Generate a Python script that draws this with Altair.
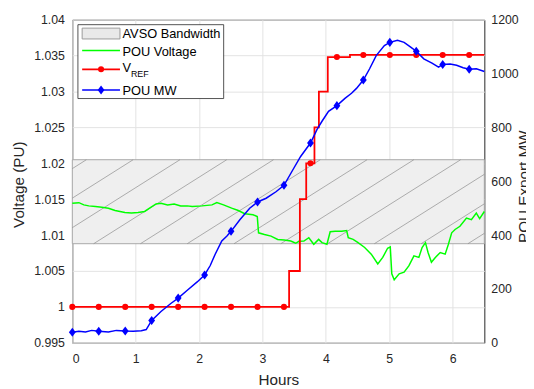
import altair as alt
import pandas as pd

# ---------------- data ----------------
G_H = [0.00, 0.104, 0.182, 0.260, 0.364, 0.466, 0.570, 0.675, 0.830, 0.933, 1.037, 1.141, 1.219,
       1.321, 1.399, 1.503, 1.607, 1.710, 1.814, 1.892, 2.047, 2.203, 2.280, 2.385, 2.514, 2.618,
       2.720, 2.851, 2.918, 2.938, 3.031, 3.135, 3.240, 3.342, 3.446, 3.524, 3.575, 3.653, 3.731,
       3.809, 3.886, 3.939, 4.017, 4.068, 4.146, 4.250, 4.328, 4.353, 4.430, 4.508, 4.612, 4.716,
       4.819, 4.897, 4.974, 5.016, 5.040, 5.078, 5.156, 5.234, 5.311, 5.389, 5.467, 5.518, 5.571,
       5.612, 5.665, 5.727, 5.804, 5.882, 5.933, 5.985, 6.038, 6.115, 6.218, 6.296, 6.373, 6.426,
       6.500]
G_V = [1.01444, 1.01452, 1.01421, 1.01407, 1.01397, 1.01389, 1.01375, 1.01342, 1.01315, 1.01307,
       1.01315, 1.01329, 1.01375, 1.01434, 1.01444, 1.01421, 1.01434, 1.01407, 1.01407, 1.01397,
       1.01407, 1.01421, 1.01452, 1.01421, 1.01375, 1.01342, 1.01297, 1.01283, 1.01260, 1.01032,
       1.01009, 1.00986, 1.00940, 1.00931, 1.00917, 1.00886, 1.00913, 1.00917, 1.00964, 1.00872,
       1.00940, 1.00895, 1.00872, 1.01046, 1.01054, 1.01054, 1.01064, 1.00964, 1.00940, 1.00895,
       1.00827, 1.00735, 1.00597, 1.00689, 1.00817, 1.00835, 1.00460, 1.00378, 1.00460, 1.00484,
       1.00574, 1.00711, 1.00689, 1.00827, 1.00895, 1.00758, 1.00621, 1.00689, 1.00758, 1.00735,
       1.00872, 1.01032, 1.01078, 1.01123, 1.01238, 1.01215, 1.01307, 1.01229, 1.01329]

B_H = [0.000, 0.104, 0.208, 0.306, 0.417, 0.570, 0.695, 0.835, 0.959, 1.088, 1.166, 1.252, 1.399,
       1.554, 1.670, 1.814, 1.970, 2.087, 2.176, 2.254, 2.358, 2.436, 2.504, 2.643, 2.798, 2.922,
       3.058, 3.213, 3.339, 3.473, 3.602, 3.757, 3.861, 3.939, 4.042, 4.174, 4.301, 4.405, 4.483,
       4.591, 4.690, 4.794, 4.923, 5.009, 5.130, 5.234, 5.338, 5.426, 5.545, 5.674, 5.778, 5.843,
       5.960, 6.062, 6.166, 6.261, 6.374, 6.500]
B_MW = [39, 43, 40, 46, 43, 40, 46, 44, 43, 45, 49, 83, 116,
        146, 166, 195, 226, 252, 287, 329, 378, 396, 414, 457, 500, 523,
        537, 561, 585, 640, 692, 742, 793, 823, 860, 881, 908, 927, 945,
        976, 1018, 1067, 1104, 1116, 1124, 1116, 1098, 1083, 1055, 1039, 1024, 1034,
        1036, 1031, 1022, 1016, 1018, 1008]

R_H = [0.0, 3.42, 3.59, 3.69, 3.82, 3.89, 4.03, 4.38, 6.5]
R_V = [1.000, 1.005, 1.015, 1.020, 1.025, 1.030, 1.0348, 1.0351, 1.0351]

M_H = [0.000, 0.417, 0.835, 1.252, 1.670, 2.087, 2.504, 2.922, 3.339, 3.757, 4.174, 4.591,
       5.009, 5.426, 5.843, 6.261]
M_RV = [1.0, 1.0, 1.0, 1.0, 1.0, 1.0, 1.0, 1.0, 1.0, 1.02, 1.0348, 1.0351, 1.0351, 1.0351,
        1.0351, 1.0351]
M_BMW = [39, 43, 44, 83, 166, 252, 414, 523, 585, 742, 881, 976, 1116, 1083, 1034, 1016]

BAND_LO, BAND_HI = 1.0088, 1.0205

X_DOMAIN = [0, 6.5]
X_TICKS = [0, 1, 2, 3, 4, 5, 6]
YL_DOMAIN = [0.995, 1.04]
YL_TICKS = [0.995, 1.0, 1.005, 1.01, 1.015, 1.02, 1.025, 1.03, 1.035, 1.04]
YR_DOMAIN = [0, 1200]
YR_TICKS = [0, 200, 400, 600, 800, 1000, 1200]

LEG_LABELS = ["AVSO Bandwidth", "POU Voltage", "V", "REF", "POU MW"]

# hatch pattern parameters (decoration of the band)
HATCH_START, HATCH_STEP, HATCH_RUN = 0.337, 0.738, 2.099

# ---------------- frames ----------------
green = pd.DataFrame({"h": G_H, "v": G_V})
blue = pd.DataFrame({"h": B_H, "mw": B_MW})
red = pd.DataFrame({"h": R_H, "v": R_V})
marks = pd.DataFrame({"h": M_H, "rv": M_RV, "bmw": M_BMW})
band = pd.DataFrame({"x0": [X_DOMAIN[0]], "x1": [X_DOMAIN[1]], "lo": [BAND_LO], "hi": [BAND_HI]})
hb = [HATCH_START + HATCH_STEP * k for k in range(-3, 9)]
hatch = pd.DataFrame({"x0": hb, "x1": [b + HATCH_RUN for b in hb],
                      "lo": [BAND_LO] * len(hb), "hi": [BAND_HI] * len(hb)})

W, H = 418.4, 328
FONT = "Liberation Sans"
AX = "#262626"
GRID = "#e3e3e3"

xaxis = alt.Axis(values=X_TICKS, format="d", title="Hours", grid=True, gridColor=GRID,
                 ticks=False, tickSize=0, domain=False, labelPadding=10,
                 titleY=37, titleBaseline="middle")
xs = alt.Scale(domain=X_DOMAIN, nice=False)
yls = alt.Scale(domain=YL_DOMAIN, nice=False, zero=False)
yrs = alt.Scale(domain=YR_DOMAIN, nice=False)
ylaxis = alt.Axis(values=YL_TICKS, format="~g", title="Voltage (PU)", grid=True, gridColor=GRID,
                  ticks=False, tickSize=0, domain=False, labelPadding=8,
                  titleX=-54.3, titleY=H / 2 + 3, titleBaseline="middle", titleAngle=270)
yraxis = alt.Axis(values=YR_TICKS, format="d", title="POU Export MW", grid=False, orient="right",
                  ticks=False, tickSize=0, domain=False, labelPadding=6.6,
                  titleX=40, titleY=H / 2 + 5, titleBaseline="middle", titleAngle=270)

X = lambda: alt.X("h:Q", scale=xs, axis=xaxis)

band_l = alt.Chart(band).mark_rect(fill="#efefef", stroke="#a8a8a8", strokeWidth=1).encode(
    x=alt.X("x0:Q", scale=xs, axis=xaxis), x2="x1:Q",
    y=alt.Y("lo:Q", scale=yls, axis=ylaxis), y2="hi:Q")
hatch_l = alt.Chart(hatch).mark_rule(color="#8c8c8c", strokeWidth=0.7, clip=True).encode(
    x=alt.X("x0:Q", scale=xs, axis=xaxis), x2="x1:Q",
    y=alt.Y("lo:Q", scale=yls, axis=ylaxis), y2="hi:Q")
green_l = alt.Chart(green).mark_line(color="#00ff00", strokeWidth=1.5).encode(
    x=X(), y=alt.Y("v:Q", scale=yls, axis=ylaxis))
red_l = alt.Chart(red).mark_line(color="#ff0000", strokeWidth=1.8, interpolate="step-after").encode(
    x=X(), y=alt.Y("v:Q", scale=yls, axis=ylaxis))
red_p = alt.Chart(marks).mark_point(filled=True, shape="circle", size=38, color="#ff0000",
                                    opacity=1).encode(
    x=X(), y=alt.Y("rv:Q", scale=yls, axis=ylaxis))
left = alt.layer(band_l, hatch_l, green_l, red_l, red_p)

DIAMOND = "M0,-1L0.75,0L0,1L-0.75,0Z"
blue_l = alt.Chart(blue).mark_line(color="#0000ff", strokeWidth=1.5).encode(
    x=X(), y=alt.Y("mw:Q", scale=yrs, axis=yraxis))
blue_p = alt.Chart(marks).mark_point(filled=True, shape=DIAMOND, size=85, color="#0000ff",
                                     opacity=1).encode(
    x=X(), y=alt.Y("bmw:Q", scale=yrs, axis=yraxis))
right = alt.layer(blue_l, blue_p)

# ---------------- legend (manual, MATLAB style) ----------------
one = alt.Data(values=[{}])
base = alt.Chart(one)
LX0, LX1 = 10, 48.4
LFS = 13
leg = alt.layer(
    base.mark_rect(fill="white", stroke=AX, strokeWidth=0.8).encode(
        x=alt.value(5.7), x2=alt.value(153.7), y=alt.value(5), y2=alt.value(80)),
    base.mark_rect(fill="#e9e9e9", stroke="#9a9a9a", strokeWidth=1).encode(
        x=alt.value(LX0), x2=alt.value(LX1), y=alt.value(8.5), y2=alt.value(19.5)),
    base.mark_rule(color="#00ff00", strokeWidth=1.5).encode(
        x=alt.value(LX0), x2=alt.value(LX1), y=alt.value(31.3)),
    base.mark_rule(color="#ff0000", strokeWidth=1.8).encode(
        x=alt.value(LX0), x2=alt.value(LX1), y=alt.value(50.3)),
    base.mark_point(filled=True, shape="circle", size=38, color="#ff0000", opacity=1).encode(
        x=alt.value(29.2), y=alt.value(50.3)),
    base.mark_rule(color="#0000ff", strokeWidth=1.5).encode(
        x=alt.value(LX0), x2=alt.value(LX1), y=alt.value(71.3)),
    base.mark_point(filled=True, shape=DIAMOND, size=85, color="#0000ff", opacity=1).encode(
        x=alt.value(29.2), y=alt.value(71.3)),
    base.mark_text(text=LEG_LABELS[0], align="left", baseline="middle", fontSize=LFS,
                   font=FONT, color="#000000").encode(x=alt.value(51), y=alt.value(15)),
    base.mark_text(text=LEG_LABELS[1], align="left", baseline="middle", fontSize=LFS,
                   font=FONT, color="#000000").encode(x=alt.value(51), y=alt.value(33)),
    base.mark_text(text=LEG_LABELS[2], align="left", baseline="middle", fontSize=LFS,
                   font=FONT, color="#000000").encode(x=alt.value(51), y=alt.value(49.5)),
    base.mark_text(text=LEG_LABELS[3], align="left", baseline="middle", fontSize=9,
                   font=FONT, color="#000000").encode(x=alt.value(59.5), y=alt.value(55)),
    base.mark_text(text=LEG_LABELS[4], align="left", baseline="middle", fontSize=LFS,
                   font=FONT, color="#000000").encode(x=alt.value(51), y=alt.value(72)),
)

chart = alt.layer(left, right, leg).resolve_scale(y="independent").properties(
    width=W, height=H,
    padding={"left": 65.3, "top": 9, "right": 42.3, "bottom": 44},
    autosize=alt.AutoSizeParams(type="none"),
).configure(font=FONT).configure_view(stroke=AX, strokeWidth=1).configure_axis(
    labelFont=FONT, titleFont=FONT, labelFontSize=12.5, titleFontSize=15.5,
    titleFontWeight="normal", labelColor=AX, titleColor=AX,
)

chart.save("out.html", embed_options={"renderer": "svg", "actions": False})
